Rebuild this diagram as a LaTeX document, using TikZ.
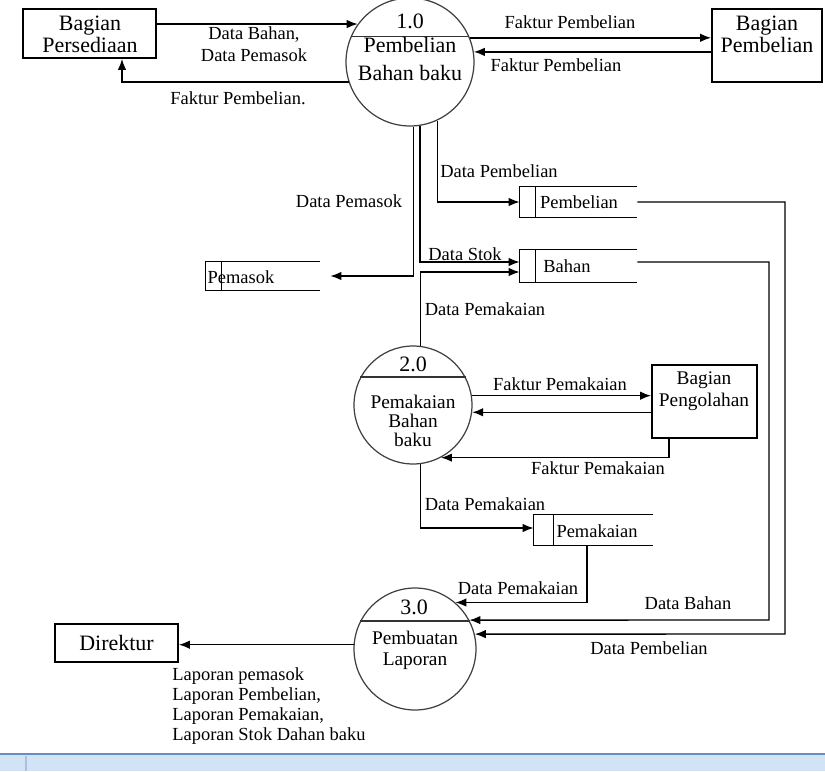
\documentclass[tikz,border=0pt]{standalone}
\usepackage{fontspec}
\setmainfont{Liberation Serif}
\usetikzlibrary{arrows.meta}

\definecolor{barline}{HTML}{6A8CC4}
\definecolor{barfill}{HTML}{D3E3F6}
\definecolor{barsep}{HTML}{A9C0DE}

\begin{document}
\begin{tikzpicture}[x=0.02cm, y=-0.02cm,
    entity/.style ={rectangle, draw, line width=1pt, inner sep=0pt},
    process/.style ={circle, draw=black!75, line width=0.7pt, inner sep=0pt},
    chord/.style ={draw=black!80, line width=0.7pt},
    store/.style ={rectangle, inner sep=0pt, minimum height=0.6cm},
    storeline/.style ={line width=0.8pt},
    flow/.style ={line width=0.8pt, -{Latex[length=2.2mm,width=1.7mm]}},
    lbl/.style ={font=\fontsize{10.5}{11.4}\selectfont, inner sep=0pt, align=center},
    mid/.style ={font=\fontsize{11}{10.8}\selectfont, inner sep=0pt, align=center},
    big/.style ={font=\fontsize{12.5}{12.5}\selectfont, inner sep=0pt, align=center}]
   \useasboundingbox (0,0) rectangle (825,771);

   % external entities
   \node[entity, minimum width=2.66cm, minimum height=0.98cm] (persed) at (89.5,33.5) {};
   \node[big] (tpersed) at (90,34) {Bagian\\Persediaan};
   \node[entity, minimum width=2.2cm, minimum height=1.46cm] (pembl) at (767,45.5) {};
   \node[big] (tpembl) at (767,34) {Bagian\\Pembelian};
   \node[entity, minimum width=2.1cm, minimum height=1.46cm] (oleh) at (704.5,401.5) {};
   \node[mid, text depth=0pt] (toleh) at (704,389) {Bagian\\[2pt]Pengolahan};
   \node[entity, minimum width=2.46cm, minimum height=0.76cm] (direk) at (116.5,643) {};
   \node[big] (tdirek) at (116.5,643) {Direktur};

   % processes
   \node[process, minimum size=2.56cm] (p1) at (410,62) {};
   \draw[chord] (p1.157) -- (p1.23);
   \node[big] (n1) at (410,21) {1.0};
   \node[big] (t1) at (410,59) {Pembelian\\[3pt]Bahan baku};
   \node[process, minimum size=2.36cm] (p2) at (413,405) {};
   \draw[chord] (p2.152) -- (p2.28);
   \node[big] (n2) at (413,364) {2.0};
   \node[mid] (t2) at (413,421) {Pemakaian\\Bahan\\baku};
   \node[process, minimum size=2.44cm] (p3) at (415,649) {};
   \draw[chord] (p3.153) -- (p3.27);
   \node[big] (n3) at (414,607) {3.0};
   \node[mid] (t3) at (415,650) {Pembuatan\\[1pt]Laporan};

   % data stores
   \node[store, minimum width=2.28cm, minimum height=0.56cm] (pemasok) at (263,276) {};
   \node[store, minimum width=2.34cm] (sb) at (578.5,202) {};
   \node[store, minimum width=2.34cm, minimum height=0.64cm] (sh) at (578.5,266) {};
   \node[store, minimum width=2.38cm] (sk) at (593.5,530) {};
   \foreach \s/\d in {pemasok/0.32cm, sb/0.32cm, sh/0.32cm, sk/0.4cm} {
      \draw[storeline] (\s.north east) -- (\s.north west) -- (\s.south west) -- (\s.south east);
      \draw[storeline] ([xshift=\d]\s.north west) -- ([xshift=\d]\s.south west);
   }
   \node[lbl] (tpemasok) at (241,277) {Pemasok};
   \node[lbl] (tsb) at (579,202) {Pembelian};
   \node[lbl] (tsh) at (567,266) {Bahan};
   \node[lbl] (tsk) at (597,531) {Pemakaian};

   % bend points
   \coordinate (kh) at (769,620);
   \coordinate (kb) at (785,634);

   % flows round 1.0
   \draw[flow] (persed.east |- p1.144) -- (p1.144);
   \draw[flow] (p1.198) -| ([xshift=0.65cm]persed.south);
   \draw[flow] (p1.22) -- (pembl.west |- p1.22);
   \draw[flow] (pembl.west |- p1.9) -- (p1.9);
   \draw[flow] (p1.-87) |- ([xshift=0.2cm]pemasok.east);
   \draw[flow] (p1.-81) |- ([yshift=0.08cm]sh.west);
   \draw[flow] (p1.-65) |- (sb.west);

   % flows round 2.0
   \draw[flow] (p2.83) |- ([yshift=-0.12cm]sh.west);
   \draw[flow] (p2.9) -- (oleh.west |- p2.9);
   \draw[flow] (oleh.west |- p2.-7) -- (p2.-7);
   \draw[flow] ([xshift=-0.71cm]oleh.south) |- (p2.-62);
   \draw[flow] (p2.-83) |- ([yshift=0.04cm]sk.west);

   % flows round 3.0
   \draw[flow] ([xshift=-0.13cm]sk.south) |- (p3.49);
   \draw[flow] ([yshift=0.08cm]sh.east) -| (kh) -- (p3.28);
   \draw[flow] (sb.east) -| (kb) -- (p3.14);
   \draw[flow] (p3.176) -- (direk.east |- p3.176);

   % flow labels
   \node[lbl] (l1) at (254,44) {Data Bahan,\\[1pt]Data Pemasok};
   \node[lbl] (l2) at (238,98) {Faktur Pembelian.};
   \node[lbl] (l3) at (570,22) {Faktur Pembelian};
   \node[lbl] (l4) at (556,65) {Faktur Pembelian};
   \node[lbl] (l5) at (349,201) {Data Pemasok};
   \node[lbl] (l6) at (499,171) {Data Pembelian};
   \node[lbl] (l7) at (465,254) {Data Stok};
   \node[lbl] (l8) at (485,309) {Data Pemakaian};
   \node[lbl] (l9) at (560,384) {Faktur Pemakaian};
   \node[lbl] (l10) at (598,468) {Faktur Pemakaian};
   \node[lbl] (l11) at (485,504) {Data Pemakaian};
   \node[lbl] (l12) at (518,588) {Data Pemakaian};
   \node[lbl] (l13) at (688,603) {Data Bahan};
   \node[lbl] (l14) at (649,648) {Data Pembelian};
   \node[lbl, anchor=north west, align=left] (l15) at (172,667)
      {Laporan pemasok\\Laporan Pembelian,\\Laporan Pemakaian,\\Laporan Stok Dahan baku};

   % status bar
   \fill[barfill] (0,755) rectangle (825,771);
   \draw[barline, line width=1pt] (0,754) -- (825,754);
   \draw[barsep, line width=0.8pt] (26,756) -- (26,771);
 \end{tikzpicture}
\end{document}
